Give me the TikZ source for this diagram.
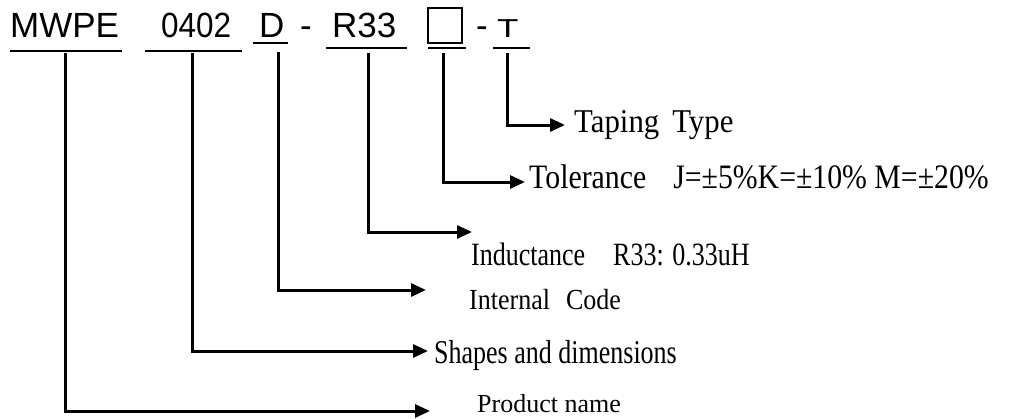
\documentclass[tikz,border=0pt]{standalone}
\usepackage{fontspec}
\setmainfont{Liberation Serif}
\newfontfamily\codefont{Liberation Sans}
\usetikzlibrary{arrows.meta}

\tikzset{
	part/.style={font=\codefont\fontsize{35}{35}\selectfont, inner sep=0pt, anchor=base west},
	lbl/.style={font=\fontsize{#1}{#1}\selectfont, inner sep=0pt, anchor=base west},
	lbl/.default=26,
	uline/.style={line width=2pt},
	leg/.style={line width=3pt, -{Triangle[length=15pt,width=13pt]}}
}

\begin{document}
\begin{tikzpicture}[x=1pt, y=-1pt]
	\useasboundingbox (0,0) rectangle (1034,418);
	
	% the part number
	\node[part] (mwpe) at (10,37) {MWPE};
	\node[part] (size) at (161,37) {\scalebox{0.9}[1]{0402}};
	\node[part] (icode) at (259,37) {D};
	\node[part] (dashA) at (300,37) {-};
	\node[part] (ind) at (332,37) {R33};
	\node[draw, line width=2pt, minimum width=34pt, minimum height=35pt, inner sep=0pt] (tol) at (445,25.5) {};
	\node[part] (dashB) at (476,37) {-};
	\node[part] (tape) at (497,37) {\scalebox{1}[0.74]{T}};
	
	\draw[uline] (10,51) -- (122,51);
	\draw[uline] (145,51) -- (242,51);
	\draw[uline] (253,43) -- (288,43);
	\draw[uline] (326,48) -- (407,48);
	\draw[uline] (428,48) -- (466,48);
	\draw[uline] (493,48) -- (530,48);
	
	% the meanings
	\node[lbl=30.8] (ltape) at (574,132) {\scalebox{1}[1.08]{Taping\hspace{13pt}Type}};
	\node[lbl=29.8] (ltol) at (529,188) {\scalebox{1}[1.15]{Tolerance\hspace{27pt}J=±5\%K=±10\% M=±20\%}};
	\node[lbl] (lind) at (471,265) {\scalebox{1}[1.25]{Inductance\hspace{28pt}R33: 0.33uH}};
	\node[lbl] (lcode) at (469,309) {\scalebox{1}[1.12]{Internal\hspace{16pt}Code}};
	\node[lbl] (lsize) at (434,363) {\scalebox{1}[1.28]{Shapes and dimensions}};
	\node[lbl] (lname) at (477,412) {Product name};
	
	\coordinate (mwpe-s) at (65,53);
	\coordinate (mwpe-e) at (430,411);
	\coordinate (size-s) at (192,53);
	\coordinate (size-e) at (428,351);
	\coordinate (icode-s) at (278,52);
	\coordinate (icode-e) at (426,290);
	\coordinate (ind-s) at (368,53);
	\coordinate (ind-e) at (472,232);
	\coordinate (tol-s) at (443,53);
	\coordinate (tol-e) at (525,182);
	\coordinate (tape-s) at (507,53);
	\coordinate (tape-e) at (565,125);
	
	\draw[leg] (mwpe-s) |- (mwpe-e);
	\draw[leg] (size-s) |- (size-e);
	\draw[leg] (icode-s) |- (icode-e);
	\draw[leg] (ind-s) |- (ind-e);
	\draw[leg] (tol-s) |- (tol-e);
	\draw[leg] (tape-s) |- (tape-e);
	
\end{tikzpicture}
\end{document}
